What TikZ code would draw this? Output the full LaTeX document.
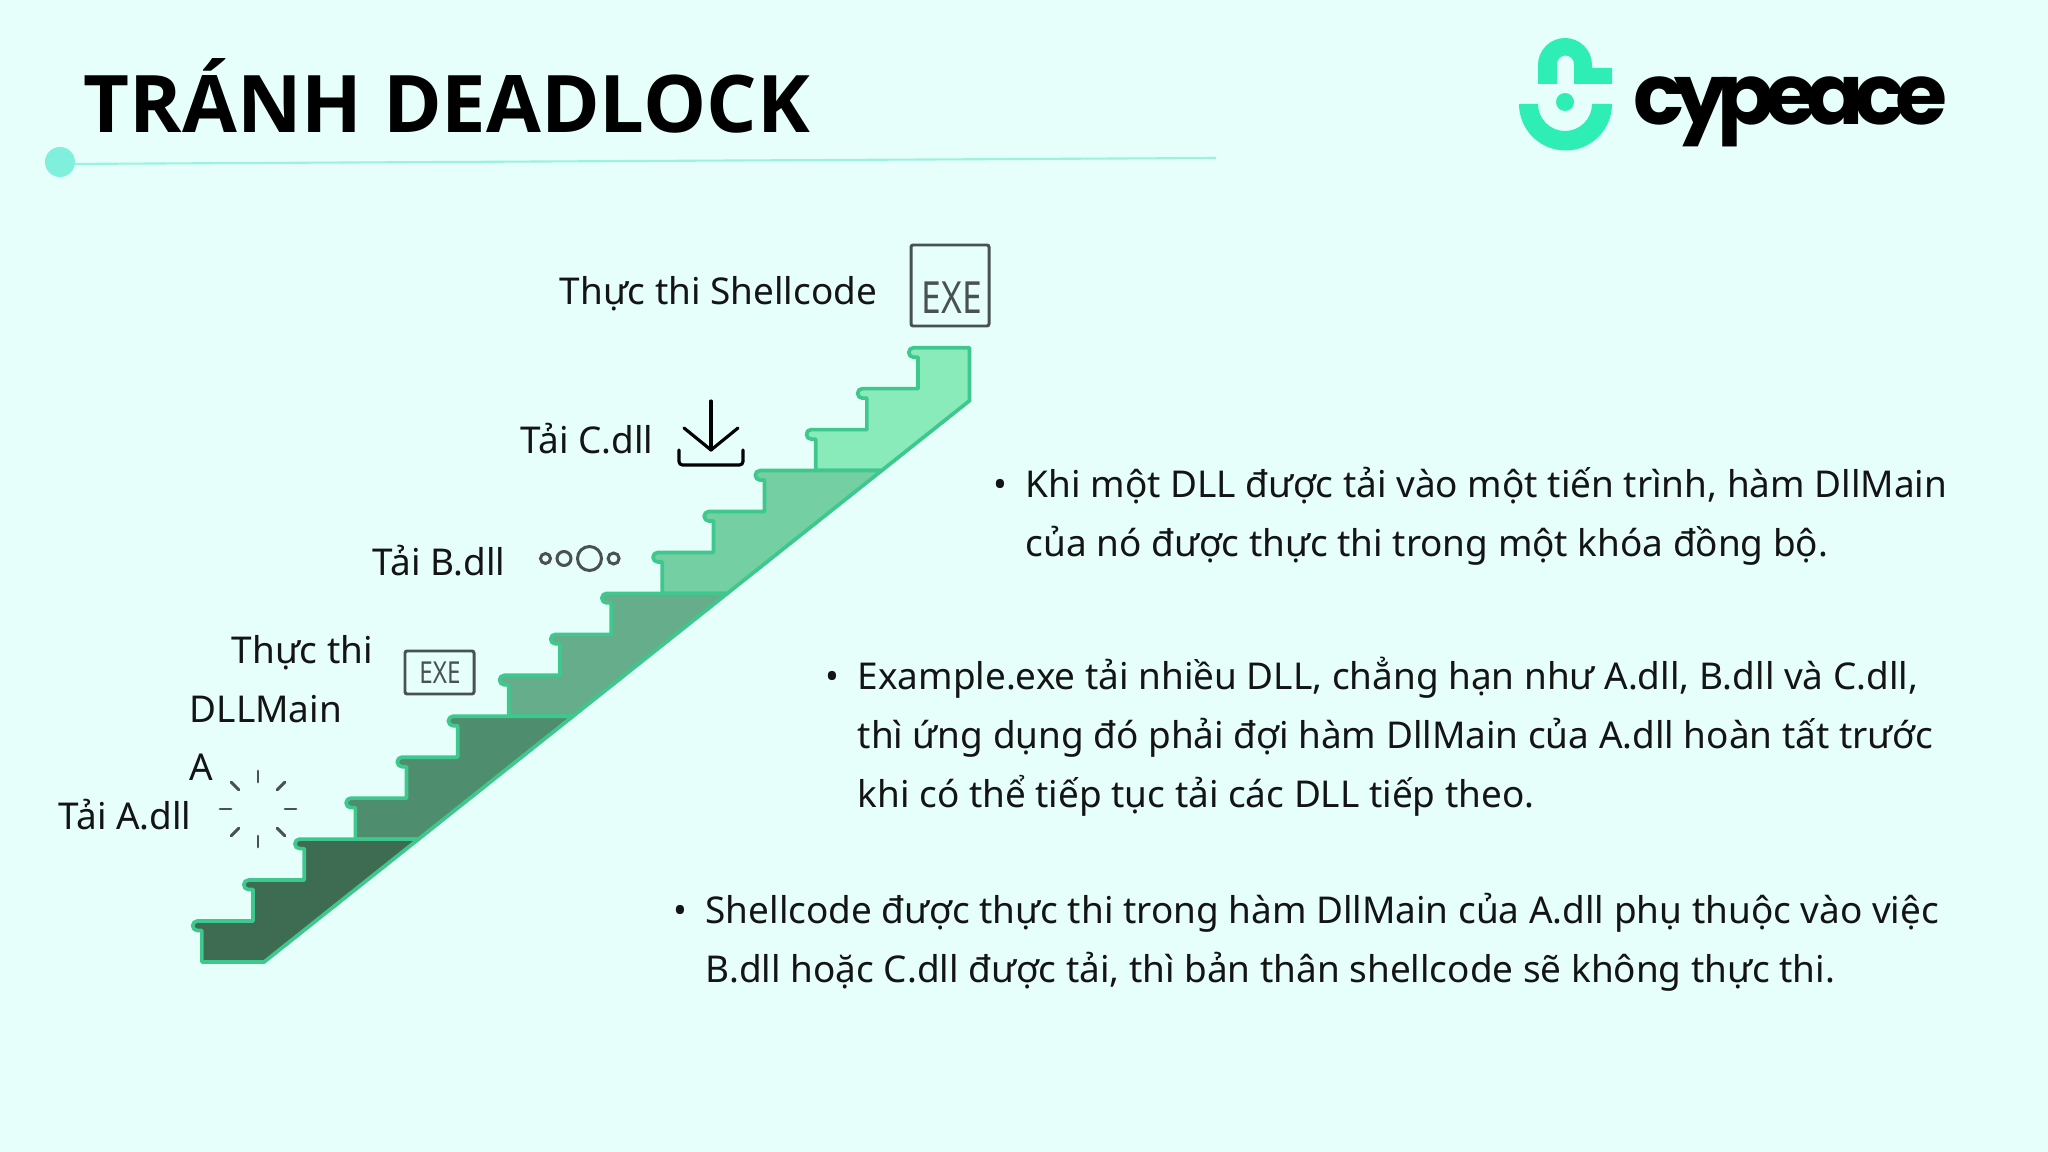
\documentclass[tikz,border=0pt]{standalone}
\usepackage{fontspec}
\setmainfont{Noto Sans}
\newfontfamily\titlefont{Open Sans}
\newfontfamily\logofont[LetterSpace=-12]{Poppins}
\definecolor{bgmint}{HTML}{E6FFFB}
\definecolor{rulemint}{HTML}{9CF2E0}
\definecolor{dotmint}{HTML}{80F0DC}
\definecolor{logomint}{HTML}{2EEDB5}
\definecolor{iconink}{HTML}{4A5250}
\definecolor{stepedge}{HTML}{3FC88D}
\definecolor{stepA}{HTML}{88EBB9}
\definecolor{stepB}{HTML}{74CFA2}
\definecolor{stepC}{HTML}{66AD8B}
\definecolor{stepD}{HTML}{4F8D6F}
\definecolor{stepE}{HTML}{3E6C53}
\tikzset{
    body/.style={anchor=base west,inner sep=0pt,text=black!92,font=\fontsize{10.5pt}{13pt}\selectfont},
    stepline/.style={draw=stepedge,line width=1.05pt,line join=round},
    iconline/.style={draw=iconink,line width=.85pt,line cap=round},
    exebox/.style={draw=iconink,line width=.85pt,rounded corners=.6pt,fill=none},
}
% one nosing plus the tread behind it
\newcommand{\stepnose}[1]{
    -- ({918-51.15*#1},{347.7+40.95*#1+9.5}) -- ++(-4.5,0)
    arc[start angle=90,end angle=270,radius=4.75]
    -- ({918-51.15*(#1-1)},{347.7+40.95*#1})
}
\begin{document}
\begin{tikzpicture}[x=.01cm,y=-.01cm,declare function={stepx(\y)=969.5-(\y-400.7)*1.2567;}]
    \fill[bgmint](0,0)rectangle(2048,1152);
    \useasboundingbox(0,0)rectangle(2048,1152);
    % title
    \node[anchor=base west,inner sep=0pt,font=\fontsize{22.6pt}{24pt}\titlefont\bfseries](title)at(83,133){TRÁNH DEADLOCK};
    \draw[rulemint,line width=.6pt](60,164)--(1216,158);
    \fill[dotmint](60,162)circle(15);
    % logo
    \fill[logomint](1538,84)--(1538,65)arc[start angle=180,end angle=360,radius=27]
        --(1592,68)--(1612,68)--(1612,84)--(1574,84)--(1574,64)
        arc[start angle=360,end angle=180,radius=8.5]--(1557,84)--cycle;
    \fill[logomint](1519,104)arc[start angle=180,end angle=0,radius=46.5]--(1592,104)
        arc[start angle=0,end angle=180,radius=27]--cycle;
    \fill[logomint](1565,102)circle(9);
    \node[anchor=base west,inner sep=0pt,font=\fontsize{24pt}{25pt}\logofont\bfseries](logo)at(1633,125){cypeace};
    % stairs, top flight first
    \foreach \g/\c in {0/stepA,1/stepB,2/stepC,3/stepD,4/stepE}
    {
        \pgfmathsetmacro\ya{347.7+122.85*\g}
        \pgfmathsetmacro\yb{\ya+122.85}
        \pgfmathsetmacro\yu{max(\ya,400.7)}
        \pgfmathsetmacro\xa{min(969.5,stepx(\ya))}
        \pgfmathsetmacro\xu{min(969.5,stepx(\yu))}
        \pgfmathsetmacro\xb{stepx(\yb)}
        \pgfmathsetmacro\j{int(3*\g)}
        \pgfmathsetmacro\jb{int(3*\g+1)}
        \pgfmathsetmacro\jc{int(3*\g+2)}
        \draw[stepline,fill=\c]({918-51.15*\jc},\yb)\stepnose{\jc}\stepnose{\jb}\stepnose{\j}
            --(\xa,\ya)--(\xu,\yu)--(\xb,\yb)--cycle;
    }
    % exe icons
    \draw[exebox](911,245)rectangle(989,326);
    \node[inner sep=0pt,xscale=.8,text=iconink,font=\fontsize{12.6pt}{13pt}\selectfont](exetop)at(952,298){EXE};
    \draw[exebox](405,651)rectangle(474,694);
    \node[inner sep=0pt,xscale=.8,text=iconink,font=\fontsize{8.6pt}{9pt}\selectfont](exelow)at(440,673){EXE};
    % download icon
    \draw[black,line width=.9pt,line cap=round,line join=round](711,401)--(711,450);
    \draw[black,line width=.9pt,line cap=round,line join=round](684,428)--(711,450)--(738,428);
    \draw[black,line width=.9pt,line cap=round,rounded corners=1pt](679,450)--(679,465)--(743,465)--(743,450);
    % dots icon
    \foreach \x/\r in {545.5/5,564/7,589.5/12,613.6/5.5}
    {
        \draw[iconline](\x,558.5)circle(\r);
    }
    % spinner icon
    \foreach \a in {0,45,...,315}
    {
        \draw[iconline]({258+27*cos(\a)},{809+27*sin(\a)})--({258+38*cos(\a)},{809+38*sin(\a)});
    }
    % labels
    \node[body](lblshell)at(559,305){Thực thi Shellcode};
    \node[body](lblc)at(520,454){Tải C.dll};
    \node[body](lblb)at(372,576){Tải B.dll};
    \node[body](lblexa)at(231,663){Thực thi};
    \node[body](lblexb)at(189,722){DLLMain};
    \node[body](lblexc)at(189,780){A};
    \node[body](lbla)at(58,829){Tải A.dll};
    % bullets
    \node[body](bula)at(993,498){•};
    \node[body](txtaa)at(1025,498){Khi một DLL được tải vào một tiến trình, hàm DllMain};
    \node[body](txtab)at(1025,556.5){của nó được thực thi trong một khóa đồng bộ.};
    \node[body](bulb)at(825,689.5){•};
    \node[body](txtba)at(857,689.5){Example.exe tải nhiều DLL, chẳng hạn như A.dll, B.dll và C.dll,};
    \node[body](txtbb)at(857,748.5){thì ứng dụng đó phải đợi hàm DllMain của A.dll hoàn tất trước};
    \node[body](txtbc)at(857,807.5){khi có thể tiếp tục tải các DLL tiếp theo.};
    \node[body](bulc)at(673,923){•};
    \node[body](txtca)at(705,923){Shellcode được thực thi trong hàm DllMain của A.dll phụ thuộc vào việc};
    \node[body](txtcb)at(705,982){B.dll hoặc C.dll được tải, thì bản thân shellcode sẽ không thực thi.};
\end{tikzpicture}
\end{document}
